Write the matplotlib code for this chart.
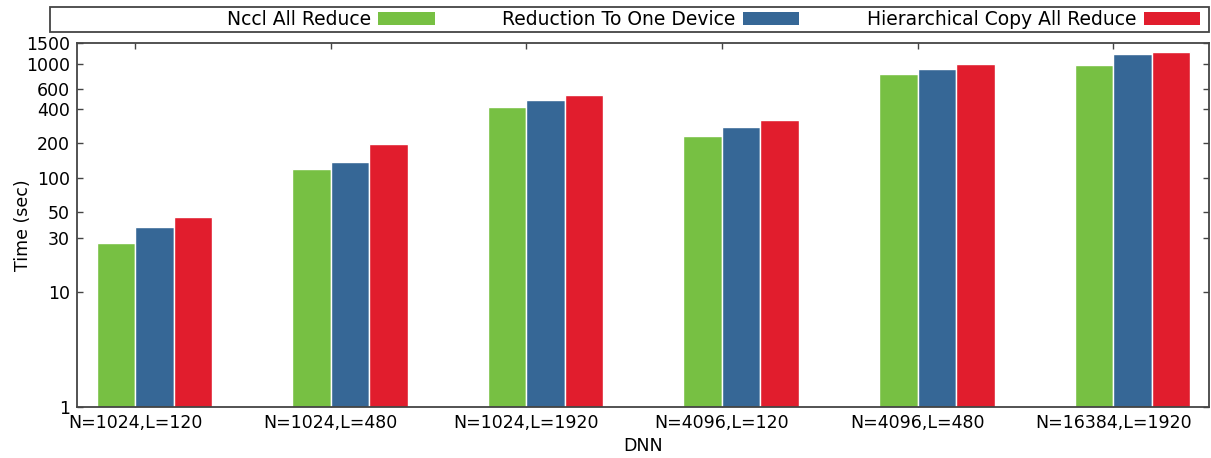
import matplotlib
matplotlib.use("Agg")
import matplotlib.pyplot as plt
import numpy as np
from matplotlib.patches import Rectangle, Patch

# data (log scale, seconds)
configs = ["N=1024,L=120", "N=1024,L=480", "N=1024,L=1920",
           "N=4096,L=120", "N=4096,L=480", "N=16384,L=1920"]
nccl_all_reduce = [27, 120, 416, 232, 805, 970]
reduction_to_one = [37, 139, 482, 280, 905, 1215]
hier_copy_all_reduce = [46, 199, 532, 323, 995, 1255]

series_names = ["Nccl All Reduce", "Reduction To One Device",
                "Hierarchical Copy All Reduce"]
colors = ["#77c043", "#366796", "#e11d2d"]

fs = 12.5

fig = plt.figure(figsize=(12.11, 4.58), dpi=100)
ax = fig.add_axes([77 / 1211, 1 - 406.7 / 458, (1209 - 77) / 1211, (406.7 - 43.4) / 458])

x = np.arange(len(configs))
w = 0.197
offsets = [-0.5 * w, 0.5 * w, 1.5 * w]
for vals, off, col, name in zip(
        [nccl_all_reduce, reduction_to_one, hier_copy_all_reduce],
        offsets, colors, series_names):
    ax.bar(x + off, vals, width=w, color=col, edgecolor="white",
           linewidth=1.0, label=name, zorder=2)

ax.set_yscale("log")
ax.set_ylim(1, 1500)
ax.set_xlim(-0.297, 5.49)
yt = [1, 10, 30, 50, 100, 200, 400, 600, 1000, 1500]
ax.set_yticks(yt)
ax.set_yticklabels([str(v) for v in yt])
ax.yaxis.set_minor_locator(matplotlib.ticker.NullLocator())
ax.set_xticks(x)
ax.set_xticklabels(configs)

ax.tick_params(axis="both", which="major", direction="in", length=4,
               width=1, colors="#444444", labelcolor="black",
               labelsize=fs, top=True, right=True, pad=5)
for sp in ax.spines.values():
    sp.set_color("#444444")
    sp.set_linewidth(1.3)

ax.set_ylabel("Time (sec)", fontsize=fs, labelpad=-4)
ax.set_xlabel("DNN", fontsize=fs, labelpad=4)

# legend box across the top, entries right-aligned with patch after text
box = Rectangle((50 / 1211, 1 - 32.3 / 458), (1209 - 50) / 1211, 25 / 458,
                transform=fig.transFigure, fill=False,
                edgecolor="#444444", linewidth=1.3)
fig.patches.append(box)
handles = [Patch(facecolor=c, edgecolor="none") for c in colors]
fig.legend(handles, series_names, loc="center right",
           bbox_to_anchor=(1200 / 1211, 1 - 19.8 / 458), ncol=3,
           frameon=False, markerfirst=False, fontsize=fs + 1,
           handlelength=3.0, handleheight=0.67, handletextpad=0.4,
           columnspacing=3.6, borderaxespad=0, borderpad=0)

fig.savefig("out.png", dpi=100)
